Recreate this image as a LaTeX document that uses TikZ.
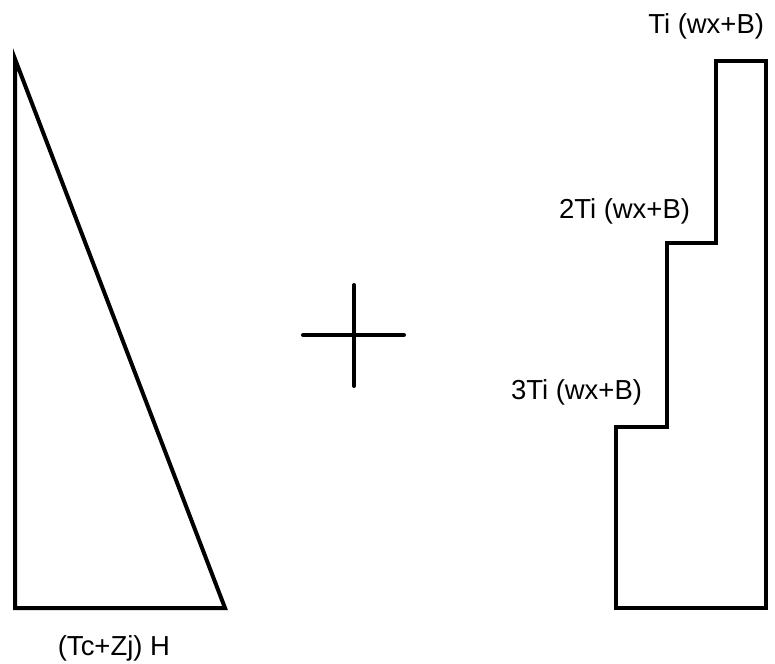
\documentclass[tikz,border=0pt]{standalone}
\usepackage{fontspec}
\setmainfont{Liberation Sans}
\begin{document}
\begin{tikzpicture}[x=0.75pt,y=-0.75pt,line width=3pt,line join=miter]
				\useasboundingbox (0,0) rectangle (775,664);
				\tikzset{lbl/.style={anchor=base east,inner sep=0pt,font=\fontsize{20.6}{24}\selectfont}}
				
				% Triangle
				\coordinate (A) at (15,59);
				\coordinate (B) at (15,608);
				\coordinate (C) at (225,608);
				\draw (A)--(B)--(C)--cycle;
				
				% Plus sign
				\coordinate (P1) at (303,335);
				\coordinate (P2) at (404,335);
				\coordinate (P3) at (354,285);
				\coordinate (P4) at (354,386);
				\draw[line cap=round] (P1)--(P2);
				\draw[line cap=round] (P3)--(P4);
				
				% Stepped block
				\coordinate (S1) at (616,608);
				\coordinate (S2) at (616,427);
				\coordinate (S3) at (667,427);
				\coordinate (S4) at (667,243);
				\coordinate (S5) at (716,243);
				\coordinate (S6) at (716,61);
				\coordinate (S7) at (766,61);
				\coordinate (S8) at (766,608);
				\draw (S1)--(S2)--(S3)--(S4)--(S5)--(S6)--(S7)--(S8)--cycle;
				
				% Labels
				\node[lbl] (L1) at (766,33) {Ti (wx+B)};
				\node[lbl] (L2) at (692,218) {2Ti (wx+B)};
				\node[lbl] (L3) at (644,399) {3Ti (wx+B)};
				\node[lbl] (L4) at (172,655) {(Tc+Zj) H};
			\end{tikzpicture}
\end{document}
